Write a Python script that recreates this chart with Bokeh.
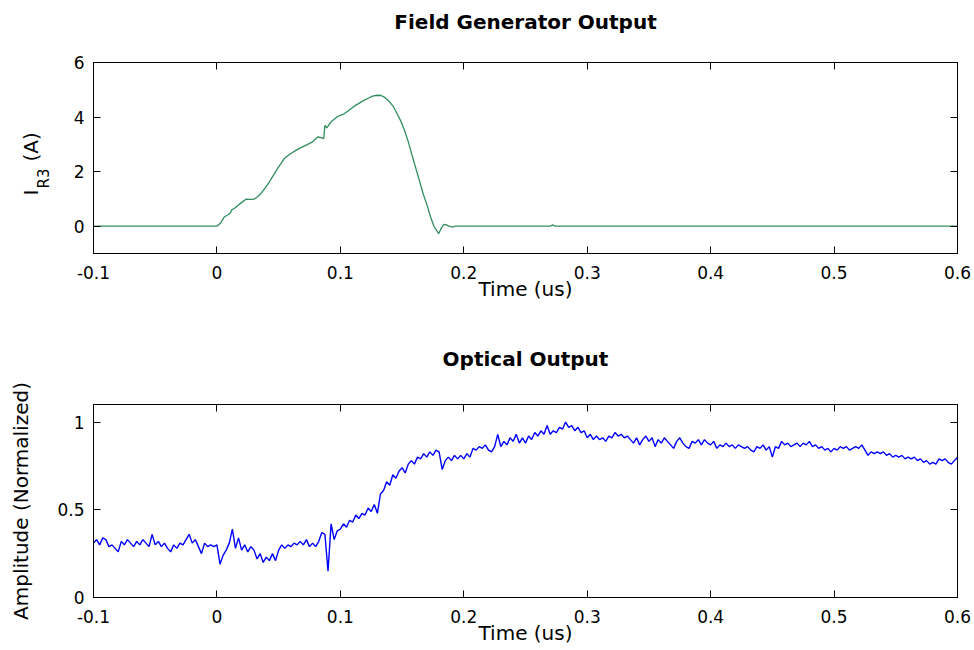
import numpy as np
from bokeh.plotting import figure
from bokeh.models import Range1d, FixedTicker, LinearAxis, Label, CustomJSTickFormatter
from bokeh.layouts import column
from bokeh.embed import file_html
from bokeh.resources import INLINE

# ---------------- data ----------------
x_ticks = [-0.1, 0, 0.1, 0.2, 0.3, 0.4, 0.5, 0.6]
top_y_ticks = [0, 2, 4, 6]
bot_y_ticks = [0, 0.5, 1]

# Field generator current I_R3 (A) vs time (us)
field_t = [-0.1, 0.0, 0.003, 0.006, 0.009, 0.011, 0.012, 0.014, 0.018, 0.0235,
           0.027, 0.030, 0.033, 0.0357, 0.039, 0.0424, 0.046, 0.049, 0.052, 0.0545,
           0.059, 0.064, 0.068, 0.072, 0.077, 0.0816, 0.0845, 0.0865, 0.0875, 0.089,
           0.093, 0.0978, 0.103, 0.107, 0.111, 0.115, 0.119, 0.123, 0.126, 0.130,
           0.133, 0.136, 0.140, 0.143, 0.146, 0.149, 0.152, 0.155, 0.157, 0.160,
           0.164, 0.167, 0.1707, 0.173, 0.176, 0.1797, 0.182, 0.184, 0.186, 0.188,
           0.191, 0.193, 0.27, 0.272, 0.274, 0.6]
field_i = [0, 0, 0.12, 0.34, 0.42, 0.49, 0.6, 0.65, 0.80, 0.99,
           0.98, 0.99, 1.08, 1.2, 1.40, 1.62, 1.88, 2.11, 2.30, 2.48,
           2.64, 2.78, 2.88, 2.96, 3.08, 3.27, 3.25, 3.21, 3.70, 3.60,
           3.85, 4.02, 4.12, 4.25, 4.39, 4.50, 4.61, 4.70, 4.77, 4.80,
           4.79, 4.72, 4.55, 4.38, 4.12, 3.85, 3.51, 3.10, 2.78, 2.30,
           1.68, 1.20, 0.71, 0.35, -0.02, -0.27, -0.05, 0.07, 0.05, 0.0,
           -0.03, 0.0, 0.0, 0.05, 0.0, 0.0]

# Optical output, sampled every 0.0025 us from -0.1 us
optical_t0 = -0.1
optical_dt = 0.0025
optical_amp = [
    0.31, 0.33, 0.30, 0.34, 0.33, 0.29, 0.30, 0.28, 0.26, 0.32, 0.30, 0.33, 0.31, 0.29, 0.32, 0.30, 0.33, 0.31, 0.29, 0.36,
    0.30, 0.32, 0.29, 0.31, 0.28, 0.26, 0.30, 0.28, 0.31, 0.30, 0.33, 0.36, 0.31, 0.33, 0.29, 0.25, 0.31, 0.29, 0.30, 0.29,
    0.30, 0.19, 0.24, 0.27, 0.31, 0.39, 0.28, 0.34, 0.27, 0.30, 0.26, 0.29, 0.27, 0.22, 0.25, 0.20, 0.23, 0.21, 0.25, 0.21,
    0.27, 0.30, 0.28, 0.30, 0.29, 0.31, 0.30, 0.32, 0.30, 0.33, 0.29, 0.31, 0.29, 0.32, 0.37, 0.36, 0.15, 0.42, 0.33, 0.38,
    0.39, 0.42, 0.40, 0.44, 0.43, 0.47, 0.45, 0.48, 0.47, 0.51, 0.49, 0.53, 0.48, 0.59, 0.61, 0.66, 0.64, 0.70, 0.68, 0.72,
    0.74, 0.71, 0.76, 0.78, 0.76, 0.80, 0.79, 0.82, 0.80, 0.83, 0.81, 0.84, 0.83, 0.73, 0.78, 0.80, 0.78, 0.81, 0.79, 0.81,
    0.79, 0.82, 0.80, 0.85, 0.84, 0.86, 0.85, 0.87, 0.84, 0.83, 0.86, 0.93, 0.86, 0.89, 0.87, 0.91, 0.89, 0.93, 0.88, 0.91,
    0.88, 0.92, 0.90, 0.94, 0.92, 0.95, 0.93, 0.98, 0.93, 0.95, 0.94, 0.97, 0.96, 1.00, 0.97, 0.98, 0.95, 0.97, 0.94, 0.95,
    0.91, 0.93, 0.90, 0.92, 0.90, 0.91, 0.89, 0.92, 0.91, 0.94, 0.92, 0.93, 0.91, 0.92, 0.90, 0.88, 0.91, 0.87, 0.90, 0.92,
    0.89, 0.91, 0.86, 0.90, 0.88, 0.91, 0.89, 0.87, 0.85, 0.89, 0.91, 0.88, 0.86, 0.85, 0.89, 0.88, 0.90, 0.87, 0.90, 0.88,
    0.87, 0.89, 0.85, 0.87, 0.86, 0.88, 0.86, 0.87, 0.85, 0.87, 0.86, 0.85, 0.86, 0.84, 0.83, 0.86, 0.85, 0.87, 0.84, 0.86,
    0.80, 0.86, 0.85, 0.89, 0.87, 0.88, 0.86, 0.87, 0.88, 0.86, 0.88, 0.87, 0.89, 0.86, 0.87, 0.85, 0.86, 0.84, 0.85, 0.83,
    0.85, 0.84, 0.86, 0.85, 0.86, 0.84, 0.85, 0.86, 0.85, 0.87, 0.84, 0.81, 0.83, 0.82, 0.83, 0.82, 0.83, 0.81, 0.82, 0.80,
    0.81, 0.80, 0.81, 0.79, 0.80, 0.79, 0.80, 0.78, 0.79, 0.77, 0.78, 0.76, 0.77, 0.76, 0.79, 0.78, 0.79, 0.77, 0.76, 0.78,
    0.80,
]
optical_t = [round(optical_t0 + optical_dt * k, 5) for k in range(len(optical_amp))]

# ---------------- styling ----------------
FONT = "DejaVu Sans"
TICK_FS = "17px"
LABEL_FS = "20px"
TITLE_FS = "20px"
FRAME_W = 864
X0, X1 = -0.1, 0.6

fmt = CustomJSTickFormatter(code="return String(Math.round(tick*1000)/1000);")
blank = CustomJSTickFormatter(code="return '';")


def style_axis(ax, ticks, show_labels=True):
    ax.ticker = FixedTicker(ticks=ticks)
    ax.axis_line_color = "black"
    ax.axis_line_width = 1
    ax.major_tick_line_color = "black"
    ax.major_tick_in = 7
    ax.major_tick_out = 0
    ax.minor_tick_line_color = None
    ax.major_label_text_font = FONT
    ax.major_label_text_font_size = TICK_FS if show_labels else "0px"
    ax.major_label_text_color = "black"
    ax.formatter = fmt if show_labels else blank
    if not show_labels:
        ax.major_label_standoff = 0


def make_fig(title, yr, yticks, frame_h, b_top, b_bottom, title_gap):
    p = figure(output_backend="svg", toolbar_location=None,
               frame_width=FRAME_W, frame_height=frame_h,
               x_range=Range1d(X0, X1), y_range=Range1d(*yr),
               min_border_left=93, min_border_right=17,
               min_border_top=b_top, min_border_bottom=b_bottom)
    p.title.text = title
    p.title.align = "center"
    p.title.text_font = FONT
    p.title.text_font_size = TITLE_FS
    p.title.text_font_style = "bold"
    p.title.text_color = "black"
    p.title.standoff = 0
    p.grid.visible = False
    p.outline_line_color = "black"
    p.background_fill_color = "white"
    p.border_fill_color = "white"
    xa = p.below[0]
    ya = p.left[0]
    style_axis(xa, x_ticks)
    style_axis(ya, yticks)
    xa.major_label_standoff = 12
    ya.major_label_standoff = 9
    xa.axis_label = "Time (us)"
    xa.axis_label_text_font = FONT
    xa.axis_label_text_font_size = LABEL_FS
    xa.axis_label_text_font_style = "normal"
    xa.axis_label_text_color = "black"
    xa.axis_label_standoff = -5
    top_ax = LinearAxis()
    right_ax = LinearAxis()
    style_axis(top_ax, x_ticks, show_labels=False)
    style_axis(right_ax, yticks, show_labels=False)
    p.add_layout(top_ax, "above")
    p.add_layout(right_ax, "right")
    # invisible spacer axis: only reserves room so the title sits higher
    spacer = LinearAxis()
    style_axis(spacer, x_ticks, show_labels=False)
    spacer.axis_line_color = None
    spacer.major_tick_line_color = None
    spacer.major_tick_in = 0
    spacer.major_tick_out = title_gap
    p.add_layout(spacer, "above")
    return p, xa, ya


p1, xa1, ya1 = make_fig("Field Generator Output", (-1, 6), top_y_ticks, 191, 62, 82, 29)
p1.line(field_t, field_i, line_color="#2f8d5c", line_width=1.3)

# y label I_R3 (A) with subscript, placed left of the frame (pixel offsets -> data units)
px_x = (X1 - X0) / FRAME_W
px_y1 = 7.0 / 191
lab_kw = dict(angle=np.pi / 2, text_align="left", text_baseline="alphabetic",
              text_font=FONT, text_color="black")
p1.add_layout(Label(x=X0 - 63 * px_x, y=-1 + 58 * px_y1, text="I",
                    text_font_size=LABEL_FS, **lab_kw), "left")
p1.add_layout(Label(x=X0 - 50 * px_x, y=-1 + 65 * px_y1, text="R3",
                    text_font_size="15px", **lab_kw), "left")
p1.add_layout(Label(x=X0 - 63 * px_x, y=-1 + 92 * px_y1, text=" (A)",
                    text_font_size=LABEL_FS, **lab_kw), "left")

p2, xa2, ya2 = make_fig("Optical Output", (0, 1.1), bot_y_ticks, 193, 69, 53, 34)
p2.line(optical_t, optical_amp, line_color="#0000ff", line_width=1.4)
ya2.axis_label = "Amplitude (Normalized)"
ya2.axis_label_text_font = FONT
ya2.axis_label_text_font_size = LABEL_FS
ya2.axis_label_text_font_style = "normal"
ya2.axis_label_text_color = "black"
ya2.axis_label_standoff = 21

layout = column(p1, p2, spacing=0)
open("out.html", "w").write(file_html(layout, INLINE))
